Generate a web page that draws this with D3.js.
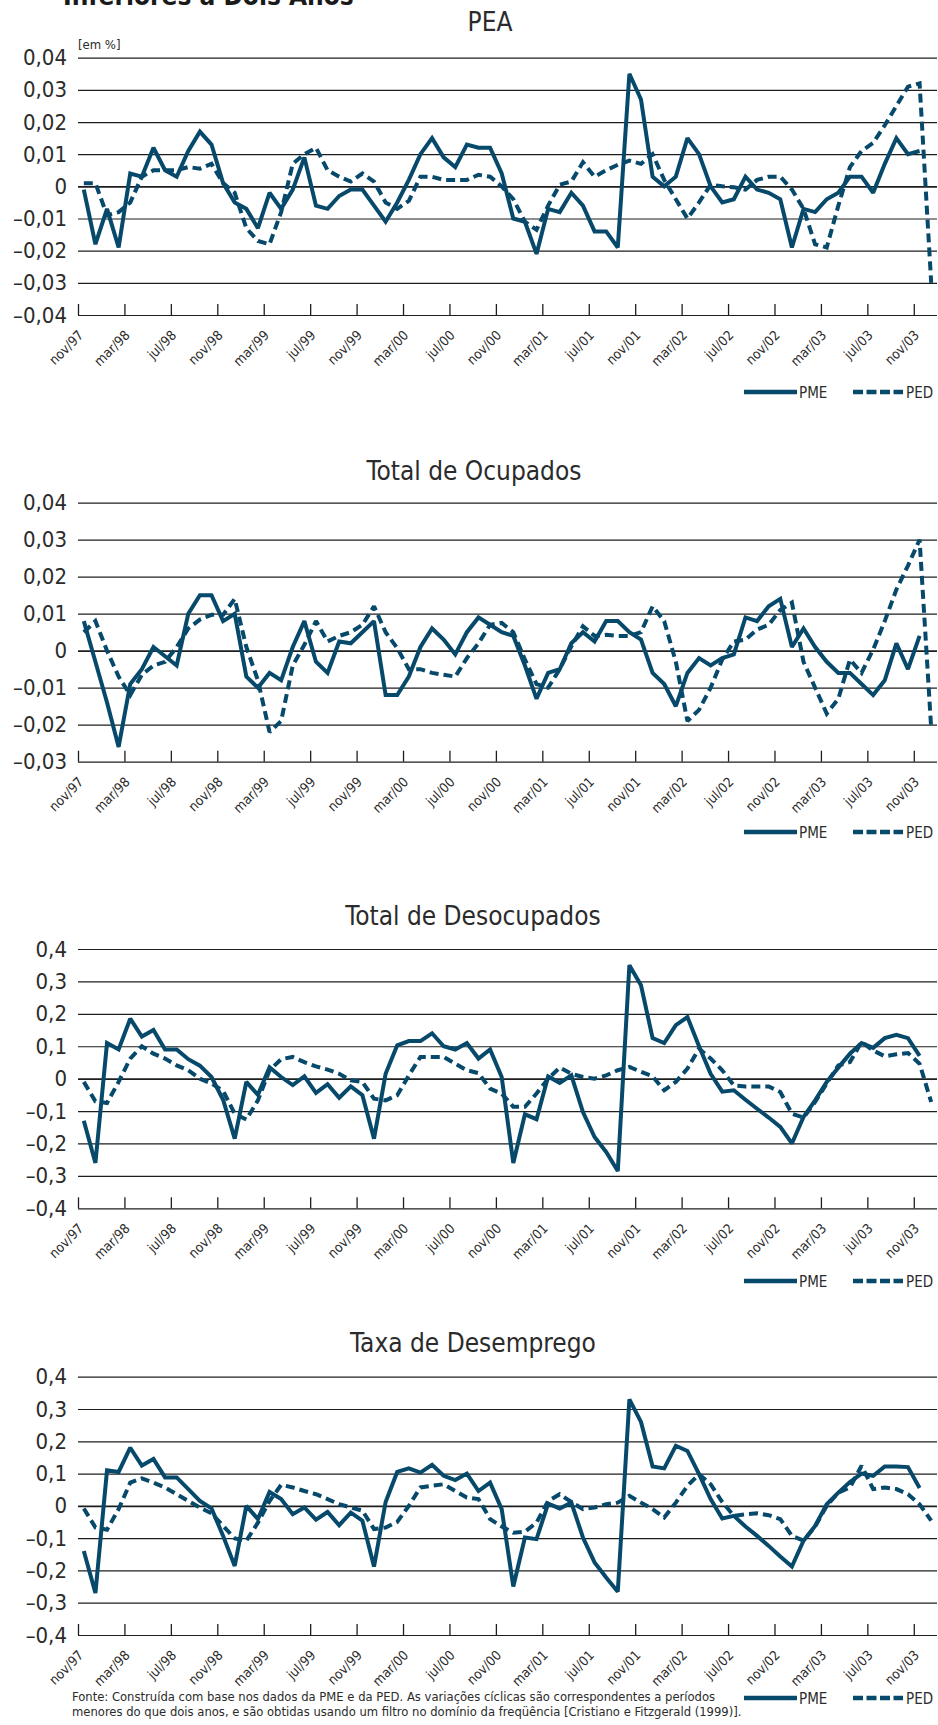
<!DOCTYPE html>
<html>
<head>
<meta charset="utf-8">
<script src="https://cdn.jsdelivr.net/npm/d3@7"></script>
<style>
  body { margin: 0; background: #fff; }
  svg text { font-family: "DejaVu Sans Condensed", "DejaVu Sans", sans-serif; font-stretch: condensed; fill: #2b2b2b; }
</style>
</head>
<body>
<script>
// months, nov/97 .. dez/03 (one category per month)
var months = [
  "nov/97","dez/97",
  "jan/98","fev/98","mar/98","abr/98","mai/98","jun/98","jul/98","ago/98","set/98","out/98","nov/98","dez/98",
  "jan/99","fev/99","mar/99","abr/99","mai/99","jun/99","jul/99","ago/99","set/99","out/99","nov/99","dez/99",
  "jan/00","fev/00","mar/00","abr/00","mai/00","jun/00","jul/00","ago/00","set/00","out/00","nov/00","dez/00",
  "jan/01","fev/01","mar/01","abr/01","mai/01","jun/01","jul/01","ago/01","set/01","out/01","nov/01","dez/01",
  "jan/02","fev/02","mar/02","abr/02","mai/02","jun/02","jul/02","ago/02","set/02","out/02","nov/02","dez/02",
  "jan/03","fev/03","mar/03","abr/03","mai/03","jun/03","jul/03","ago/03","set/03","out/03","nov/03","dez/03"
];
var xTickLabels = ["nov/97","mar/98","jul/98","nov/98","mar/99","jul/99","nov/99","mar/00","jul/00","nov/00",
  "mar/01","jul/01","nov/01","mar/02","jul/02","nov/02","mar/03","jul/03","nov/03"];

var smallTicks = [-0.04,-0.03,-0.02,-0.01,0,0.01,0.02,0.03,0.04];
var ocupTicks = [-0.03,-0.02,-0.01,0,0.01,0.02,0.03,0.04];
var bigTicks = [-0.4,-0.3,-0.2,-0.1,0,0.1,0.2,0.3,0.4];

// PEA
var peaPME = [-0.001,-0.018,-0.007,-0.019,0.004,0.003,0.012,0.005,0.003,0.011,
  0.017,0.013,0.001,-0.005,-0.007,-0.013,-0.002,-0.007,-0.001,0.009,
  -0.006,-0.007,-0.003,-0.001,-0.001,-0.006,-0.011,-0.005,0.002,0.010,
  0.015,0.009,0.006,0.013,0.012,0.012,0.004,-0.010,-0.011,-0.021,
  -0.007,-0.008,-0.002,-0.006,-0.014,-0.014,-0.019,0.035,0.027,0.003,
  0.000,0.003,0.015,0.010,0.000,-0.005,-0.004,0.003,-0.001,-0.002,
  -0.004,-0.019,-0.007,-0.008,-0.004,-0.002,0.003,0.003,-0.002,0.007,
  0.015,0.010,0.011];
var peaPED = [0.001,0.001,-0.009,-0.008,-0.005,0.003,0.005,0.005,0.005,0.006,
  0.0055,0.007,0.001,-0.002,-0.013,-0.017,-0.018,-0.008,0.007,0.010,
  0.012,0.005,0.003,0.0015,0.004,0.0015,-0.005,-0.007,-0.0045,0.003,
  0.003,0.002,0.002,0.002,0.0036,0.003,0,-0.004,-0.011,-0.0135,
  -0.006,0.0005,0.0015,0.0075,0.003,0.005,0.0067,0.008,0.007,0.010,
  0.002,-0.004,-0.010,-0.005,0.0005,0,-0.0003,-0.001,0.002,0.003,
  0.003,-0.001,-0.007,-0.018,-0.019,-0.006,0.006,0.011,0.0135,0.019,
  0.025,0.031,0.032,-0.030];

// Total de Ocupados
var ocupPME = [0.008,-0.003,-0.014,-0.026,-0.009,-0.005,0.001,-0.0015,-0.004,0.010,
  0.015,0.015,0.008,0.010,-0.007,-0.010,-0.006,-0.008,0.001,0.008,
  -0.003,-0.006,0.0025,0.002,0.005,0.008,-0.012,-0.012,-0.007,0.001,
  0.006,0.003,-0.001,0.005,0.009,0.007,0.005,0.004,-0.004,-0.013,
  -0.006,-0.005,0.002,0.005,0.0025,0.008,0.008,0.005,0.003,-0.006,
  -0.009,-0.015,-0.006,-0.002,-0.004,-0.002,-0.001,0.009,0.008,0.012,
  0.014,0.001,0.006,0.001,-0.003,-0.006,-0.006,-0.009,-0.012,-0.008,
  0.002,-0.005,0.004];
var ocupPED = [0.005,0.008,0.000,-0.007,-0.012,-0.0065,-0.004,-0.003,0.001,0.006,
  0.0084,0.0097,0.0097,0.014,0.001,-0.008,-0.022,-0.019,-0.004,0.0016,
  0.008,0.0025,0.004,0.005,0.007,0.012,0.005,0.0007,-0.005,-0.005,
  -0.006,-0.0065,-0.007,-0.002,0.002,0.007,0.0075,0.005,-0.0024,-0.009,
  -0.010,-0.005,0.0012,0.0066,0.004,0.0043,0.004,0.004,0.005,0.012,
  0.008,-0.003,-0.019,-0.016,-0.010,-0.0024,0.0025,0.003,0.0057,0.007,
  0.011,0.013,-0.003,-0.010,-0.017,-0.013,-0.0024,-0.006,0.0003,0.008,
  0.0165,0.023,0.030,-0.021];

// Total de Desocupados
var desocPME = [-0.13,-0.26,0.11,0.09,0.185,0.13,0.15,0.09,0.09,0.06,
  0.04,0.005,-0.065,-0.185,-0.01,-0.05,0.035,0.005,-0.02,0.007,
  -0.044,-0.017,-0.059,-0.024,-0.051,-0.185,0.015,0.103,0.116,0.116,
  0.14,0.10,0.09,0.11,0.062,0.09,0.005,-0.26,-0.11,-0.125,
  0.007,-0.013,0.01,-0.103,-0.18,-0.226,-0.285,0.35,0.288,0.125,
  0.11,0.165,0.19,0.10,0.015,-0.04,-0.036,-0.065,-0.093,-0.12,
  -0.149,-0.20,-0.118,-0.067,-0.01,0.034,0.077,0.11,0.095,0.125,
  0.135,0.125,0.07];
var desocPED = [-0.01,-0.07,-0.075,-0.01,0.062,0.10,0.077,0.062,0.041,0.026,
  0.0,-0.015,-0.038,-0.108,-0.126,-0.067,0.026,0.06,0.067,0.051,
  0.038,0.028,0.015,-0.005,-0.01,-0.062,-0.067,-0.051,0.01,0.067,
  0.067,0.067,0.046,0.026,0.017,-0.031,-0.046,-0.087,-0.087,-0.046,
  0.0,0.034,0.015,0.005,0.0,0.01,0.026,0.036,0.021,0.007,
  -0.036,-0.01,0.031,0.093,0.062,0.026,-0.021,-0.024,-0.024,-0.024,
  -0.041,-0.108,-0.12,-0.072,-0.015,0.041,0.051,0.113,0.087,0.069,
  0.075,0.079,0.046,-0.072];

// Taxa de Desemprego
var taxaPME = [-0.14,-0.27,0.11,0.105,0.18,0.125,0.145,0.088,0.088,0.052,
  0.015,-0.008,-0.093,-0.186,0.0,-0.041,0.043,0.021,-0.026,-0.005,
  -0.043,-0.019,-0.06,-0.021,-0.046,-0.188,0.012,0.105,0.116,0.103,
  0.127,0.093,0.08,0.10,0.046,0.072,-0.01,-0.25,-0.098,-0.103,
  0.007,-0.008,0.01,-0.098,-0.175,-0.222,-0.266,0.33,0.26,0.122,
  0.116,0.186,0.17,0.098,0.021,-0.039,-0.031,-0.064,-0.093,-0.124,
  -0.157,-0.188,-0.108,-0.062,0.005,0.041,0.074,0.10,0.093,0.122,
  0.122,0.12,0.055];
var taxaPED = [-0.008,-0.067,-0.074,-0.01,0.072,0.085,0.072,0.057,0.036,0.015,
  -0.005,-0.023,-0.062,-0.101,-0.108,-0.052,0.015,0.065,0.057,0.046,
  0.036,0.021,0.005,-0.005,-0.015,-0.072,-0.067,-0.05,0.0,0.057,
  0.062,0.067,0.046,0.026,0.021,-0.041,-0.064,-0.083,-0.08,-0.052,
  0.015,0.036,0.012,-0.01,-0.005,0.005,0.01,0.031,0.01,-0.01,
  -0.036,0.01,0.062,0.098,0.067,0.012,-0.031,-0.026,-0.023,-0.029,
  -0.041,-0.093,-0.108,-0.064,0.0,0.041,0.057,0.124,0.052,0.057,
  0.052,0.036,0.005,-0.046];

var seriesNames = ["PME", "PED"];
var fonte = ["Fonte: Construída com base nos dados da PME e da PED. As variações cíclicas são correspondentes a períodos",
  "menores do que dois anos, e são obtidas usando um filtro no domínio da freqüência [Cristiano e Fitzgerald (1999)]."];

// ---- layout ----
var W = 938, H = 1725;
var left = 78, right = 937;
var lineColor = "#07496b";

var svg = d3.select("body").append("svg")
    .attr("width", W)
    .attr("height", H);

// x: one band per month, ticks on band edges
var x = d3.scaleLinear().domain([0, months.length]).range([left, right]);
var bw = x(1) - x(0);
var tickIdx = xTickLabels.map(function(m) { return months.indexOf(m); });

function fmt(dec) {
  return function(d) {
    if (Math.abs(d) < 1e-9) return "0";
    return (d < 0 ? "\u2013" : "") + Math.abs(d).toFixed(dec).replace(".", ",");
  };
}

// heading of the page, cut by the top edge as in the source
svg.append("text")
    .attr("x", 63).attr("y", 5)
    .style("font-size", "26px").style("font-weight", "bold").style("fill", "#1a1a1a")
    .text("Inferiores a Dois Anos");

var panels = [
  {title: "PEA", tx: 490, ty: 31, top: 57.7, bottom: 315, domain: [-0.04, 0.04], ticks: smallTicks, dec: 2,
   pme: peaPME, ped: peaPED, legendY: 392, unit: true},
  {title: "Total de Ocupados", tx: 474, ty: 480, top: 502.7, bottom: 761.7, domain: [-0.03, 0.04], ticks: ocupTicks, dec: 2,
   pme: ocupPME, ped: ocupPED, legendY: 832},
  {title: "Total de Desocupados", tx: 473, ty: 925, top: 949, bottom: 1208.3, domain: [-0.4, 0.4], ticks: bigTicks, dec: 1,
   pme: desocPME, ped: desocPED, legendY: 1281},
  {title: "Taxa de Desemprego", tx: 473, ty: 1352, top: 1376.7, bottom: 1635, domain: [-0.4, 0.4], ticks: bigTicks, dec: 1,
   pme: taxaPME, ped: taxaPED, legendY: 1698}
];

panels.forEach(function(p) {
  var y = d3.scaleLinear().domain(p.domain).range([p.bottom, p.top]);
  var g = svg.append("g");

  g.append("text")
      .attr("x", p.tx).attr("y", p.ty)
      .attr("text-anchor", "middle")
      .style("font-size", "26px")
      .text(p.title);

  if (p.unit) {
    g.append("text")
        .attr("x", left).attr("y", 49)
        .style("font-size", "13px")
        .text("[em %]");
  }

  // horizontal gridlines + value labels
  var yAxis = g.append("g")
      .attr("transform", "translate(" + left + ",0)")
      .call(d3.axisLeft(y).tickValues(p.ticks).tickSize(-(right - left)).tickPadding(11).tickFormat(fmt(p.dec)));
  yAxis.select(".domain").remove();
  yAxis.selectAll(".tick line")
      .attr("stroke", "#1e1e1e")
      .attr("stroke-width", function(d) { return Math.abs(d) < 1e-9 ? 1.8 : 1.2; });
  yAxis.selectAll(".tick text")
      .style("font-size", "22px")
      .style("font-family", null);

  // month ticks (pointing up from the bottom line)
  var xAxis = g.append("g")
      .attr("transform", "translate(0," + p.bottom + ")")
      .call(d3.axisBottom(x).tickValues(tickIdx).tickSize(-11).tickFormat(function(i) { return months[i]; }));
  xAxis.select(".domain").remove();
  xAxis.selectAll(".tick line").attr("stroke", "#1e1e1e").attr("stroke-width", 1.3);
  xAxis.selectAll(".tick text")
      .attr("x", 0).attr("y", 0).attr("dy", 0)
      .attr("text-anchor", "end")
      .attr("transform", "translate(" + (bw / 2) + ",21) rotate(-45)")
      .style("font-size", "13.5px")
      .style("font-family", null);

  var line = d3.line()
      .x(function(d, i) { return x(i + 0.5); })
      .y(function(d) { return y(d); });

  g.append("path")
      .datum(p.pme)
      .attr("d", line)
      .attr("fill", "none")
      .attr("stroke", lineColor)
      .attr("stroke-width", 4)
      .attr("stroke-miterlimit", 2);

  g.append("path")
      .datum(p.ped)
      .attr("d", line)
      .attr("fill", "none")
      .attr("stroke", lineColor)
      .attr("stroke-width", 4)
      .attr("stroke-dasharray", "9,5")
      .attr("stroke-miterlimit", 2);

  // legend
  var lg = g.append("g").attr("transform", "translate(0," + p.legendY + ")");
  lg.append("line").attr("x1", 744).attr("x2", 797).attr("y1", 0).attr("y2", 0)
      .attr("stroke", lineColor).attr("stroke-width", 4.5);
  lg.append("text").attr("x", 799).attr("y", 5.5).style("font-size", "15px").text(seriesNames[0]);
  lg.append("line").attr("x1", 853).attr("x2", 903).attr("y1", 0).attr("y2", 0)
      .attr("stroke", lineColor).attr("stroke-width", 4.5).attr("stroke-dasharray", "10,3.5");
  lg.append("text").attr("x", 906).attr("y", 5.5).style("font-size", "15px").text(seriesNames[1]);
});

// source note
svg.append("g").selectAll("text")
    .data(fonte)
  .enter().append("text")
    .attr("x", 72)
    .attr("y", function(d, i) { return 1701 + i * 15; })
    .style("font-size", "12.9px")
    .text(function(d) { return d; });
</script>
</body>
</html>
